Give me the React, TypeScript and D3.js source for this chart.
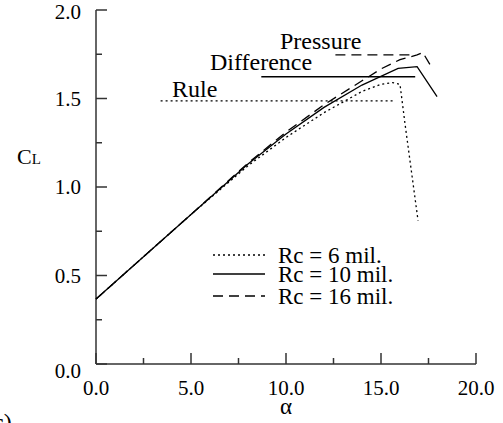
import * as d3 from "d3";

const alpha6 = [0, 5, 8, 10, 12, 14, 15, 15.6, 16.0, 16.26, 16.95];
const cl6 = [0.367, 0.845, 1.12, 1.28, 1.42, 1.54, 1.58, 1.59, 1.58, 1.36, 0.81];

const alpha10 = [0, 5, 8, 10, 12, 14, 15.9, 16.9, 17.95];
const cl10 = [0.367, 0.845, 1.13, 1.3, 1.45, 1.576, 1.67, 1.68, 1.51];

const alpha16 = [0, 5, 8, 10, 12, 14, 15, 16, 16.9, 17.2, 17.7];
const cl16 = [0.367, 0.845, 1.135, 1.31, 1.465, 1.6, 1.667, 1.72, 1.746, 1.76, 1.67];

// criteria lines: label, cl level, alpha start/end
const ruleNames = ["Rule", "Difference", "Pressure"];
const ruleCl = [1.487, 1.623, 1.746];
const ruleFrom = [3.4, 8.7, 12.6];
const ruleTo = [15.7, 16.8, 16.7];

const xTicks = [0, 5, 10, 15, 20];
const yTicks = [0, 0.5, 1.0, 1.5, 2.0];
const legendNames = ["Rc = 6 mil.", "Rc = 10 mil.", "Rc = 16 mil."];

const FONT = '"Liberation Serif", "Times New Roman", Times, serif';
const dashes = ["2,3", "", "10,6"];

export default function App() {
  const x = d3.scaleLinear().domain([0, 20]).range([96, 476]);
  const y = d3.scaleLinear().domain([0, 2]).range([364, 10]);
  const line = d3
    .line<[number, number]>()
    .x((d) => x(d[0]))
    .y((d) => y(d[1]));

  const series = [
    alpha6.map((a, i) => [a, cl6[i]] as [number, number]),
    alpha10.map((a, i) => [a, cl10[i]] as [number, number]),
    alpha16.map((a, i) => [a, cl16[i]] as [number, number]),
  ];
  const ruleDash = ["2,3", "", "10,6"];
  const labelPos = [
    { dx: 172, dy: -4 },
    { dx: 210, dy: -7 },
    { dx: 280, dy: -6 },
  ];

  const minorX = d3.range(2.5, 20, 5);
  const minorY = d3.range(0.25, 2, 0.5);
  const ts = { fontFamily: FONT };

  return (
    <svg
      width={503}
      height={423}
      style={{ position: "absolute", left: 0, top: 0, background: "#fff", fontFamily: FONT }}
    >
      {/* axes */}
      <g stroke="#333" strokeWidth={1.5} fill="none">
        <line x1={x(0)} y1={y(0)} x2={x(20)} y2={y(0)} />
        <line x1={x(0)} y1={y(0)} x2={x(0)} y2={y(2)} />
        {xTicks.map((t) => (
          <line key={"xt" + t} x1={x(t)} x2={x(t)} y1={y(0)} y2={y(0) - 11} />
        ))}
        {minorX.map((t) => (
          <line key={"xm" + t} x1={x(t)} x2={x(t)} y1={y(0)} y2={y(0) - 6} />
        ))}
        {yTicks.map((t) => (
          <line key={"yt" + t} x1={x(0)} x2={x(0) + 11} y1={y(t)} y2={y(t)} />
        ))}
        {minorY.map((t) => (
          <line key={"ym" + t} x1={x(0)} x2={x(0) + 6} y1={y(t)} y2={y(t)} />
        ))}
      </g>
      {xTicks.map((t) => (
        <text key={"xl" + t} x={x(t)} y={395} textAnchor="middle" fontSize={21} style={ts}>
          {t.toFixed(1)}
        </text>
      ))}
      {yTicks.map((t) => (
        <text
          key={"yl" + t}
          x={81}
          y={y(t) + (t === 0 ? 14 : t === 2 ? 9 : 7)}
          textAnchor="end"
          fontSize={21}
          style={ts}
        >
          {t.toFixed(1)}
        </text>
      ))}
      <text x={286} y={414} textAnchor="middle" fontSize={23} style={ts}>
        α
      </text>
      <text x={17} y={164} fontSize={22} style={ts}>
        C<tspan fontSize={15}>L</tspan>
      </text>
      <text x={-7} y={430} fontSize={24} style={ts}>
        c)
      </text>

      {/* criteria lines */}
      {ruleNames.map((n, i) => (
        <g key={n}>
          <line
            x1={x(ruleFrom[i])}
            x2={x(ruleTo[i])}
            y1={y(ruleCl[i])}
            y2={y(ruleCl[i])}
            stroke="#000"
            strokeWidth={1.3}
            strokeDasharray={ruleDash[i]}
          />
          <text x={labelPos[i].dx} y={y(ruleCl[i]) + labelPos[i].dy} fontSize={24} style={ts}>
            {n}
          </text>
        </g>
      ))}

      {/* curves */}
      {series.map((s, i) => (
        <path
          key={i}
          d={line(s) ?? ""}
          fill="none"
          stroke="#000"
          strokeWidth={1.3}
          strokeDasharray={dashes[i]}
        />
      ))}

      {/* legend */}
      {legendNames.map((n, i) => {
        const ly = [255, 274, 296][i];
        return (
          <g key={n}>
            <line
              x1={213}
              x2={265}
              y1={ly}
              y2={ly}
              stroke="#000"
              strokeWidth={1.3}
              strokeDasharray={dashes[i]}
            />
            <text x={278} y={ly + 8} fontSize={23} style={ts}>
              {n}
            </text>
          </g>
        );
      })}
    </svg>
  );
}
